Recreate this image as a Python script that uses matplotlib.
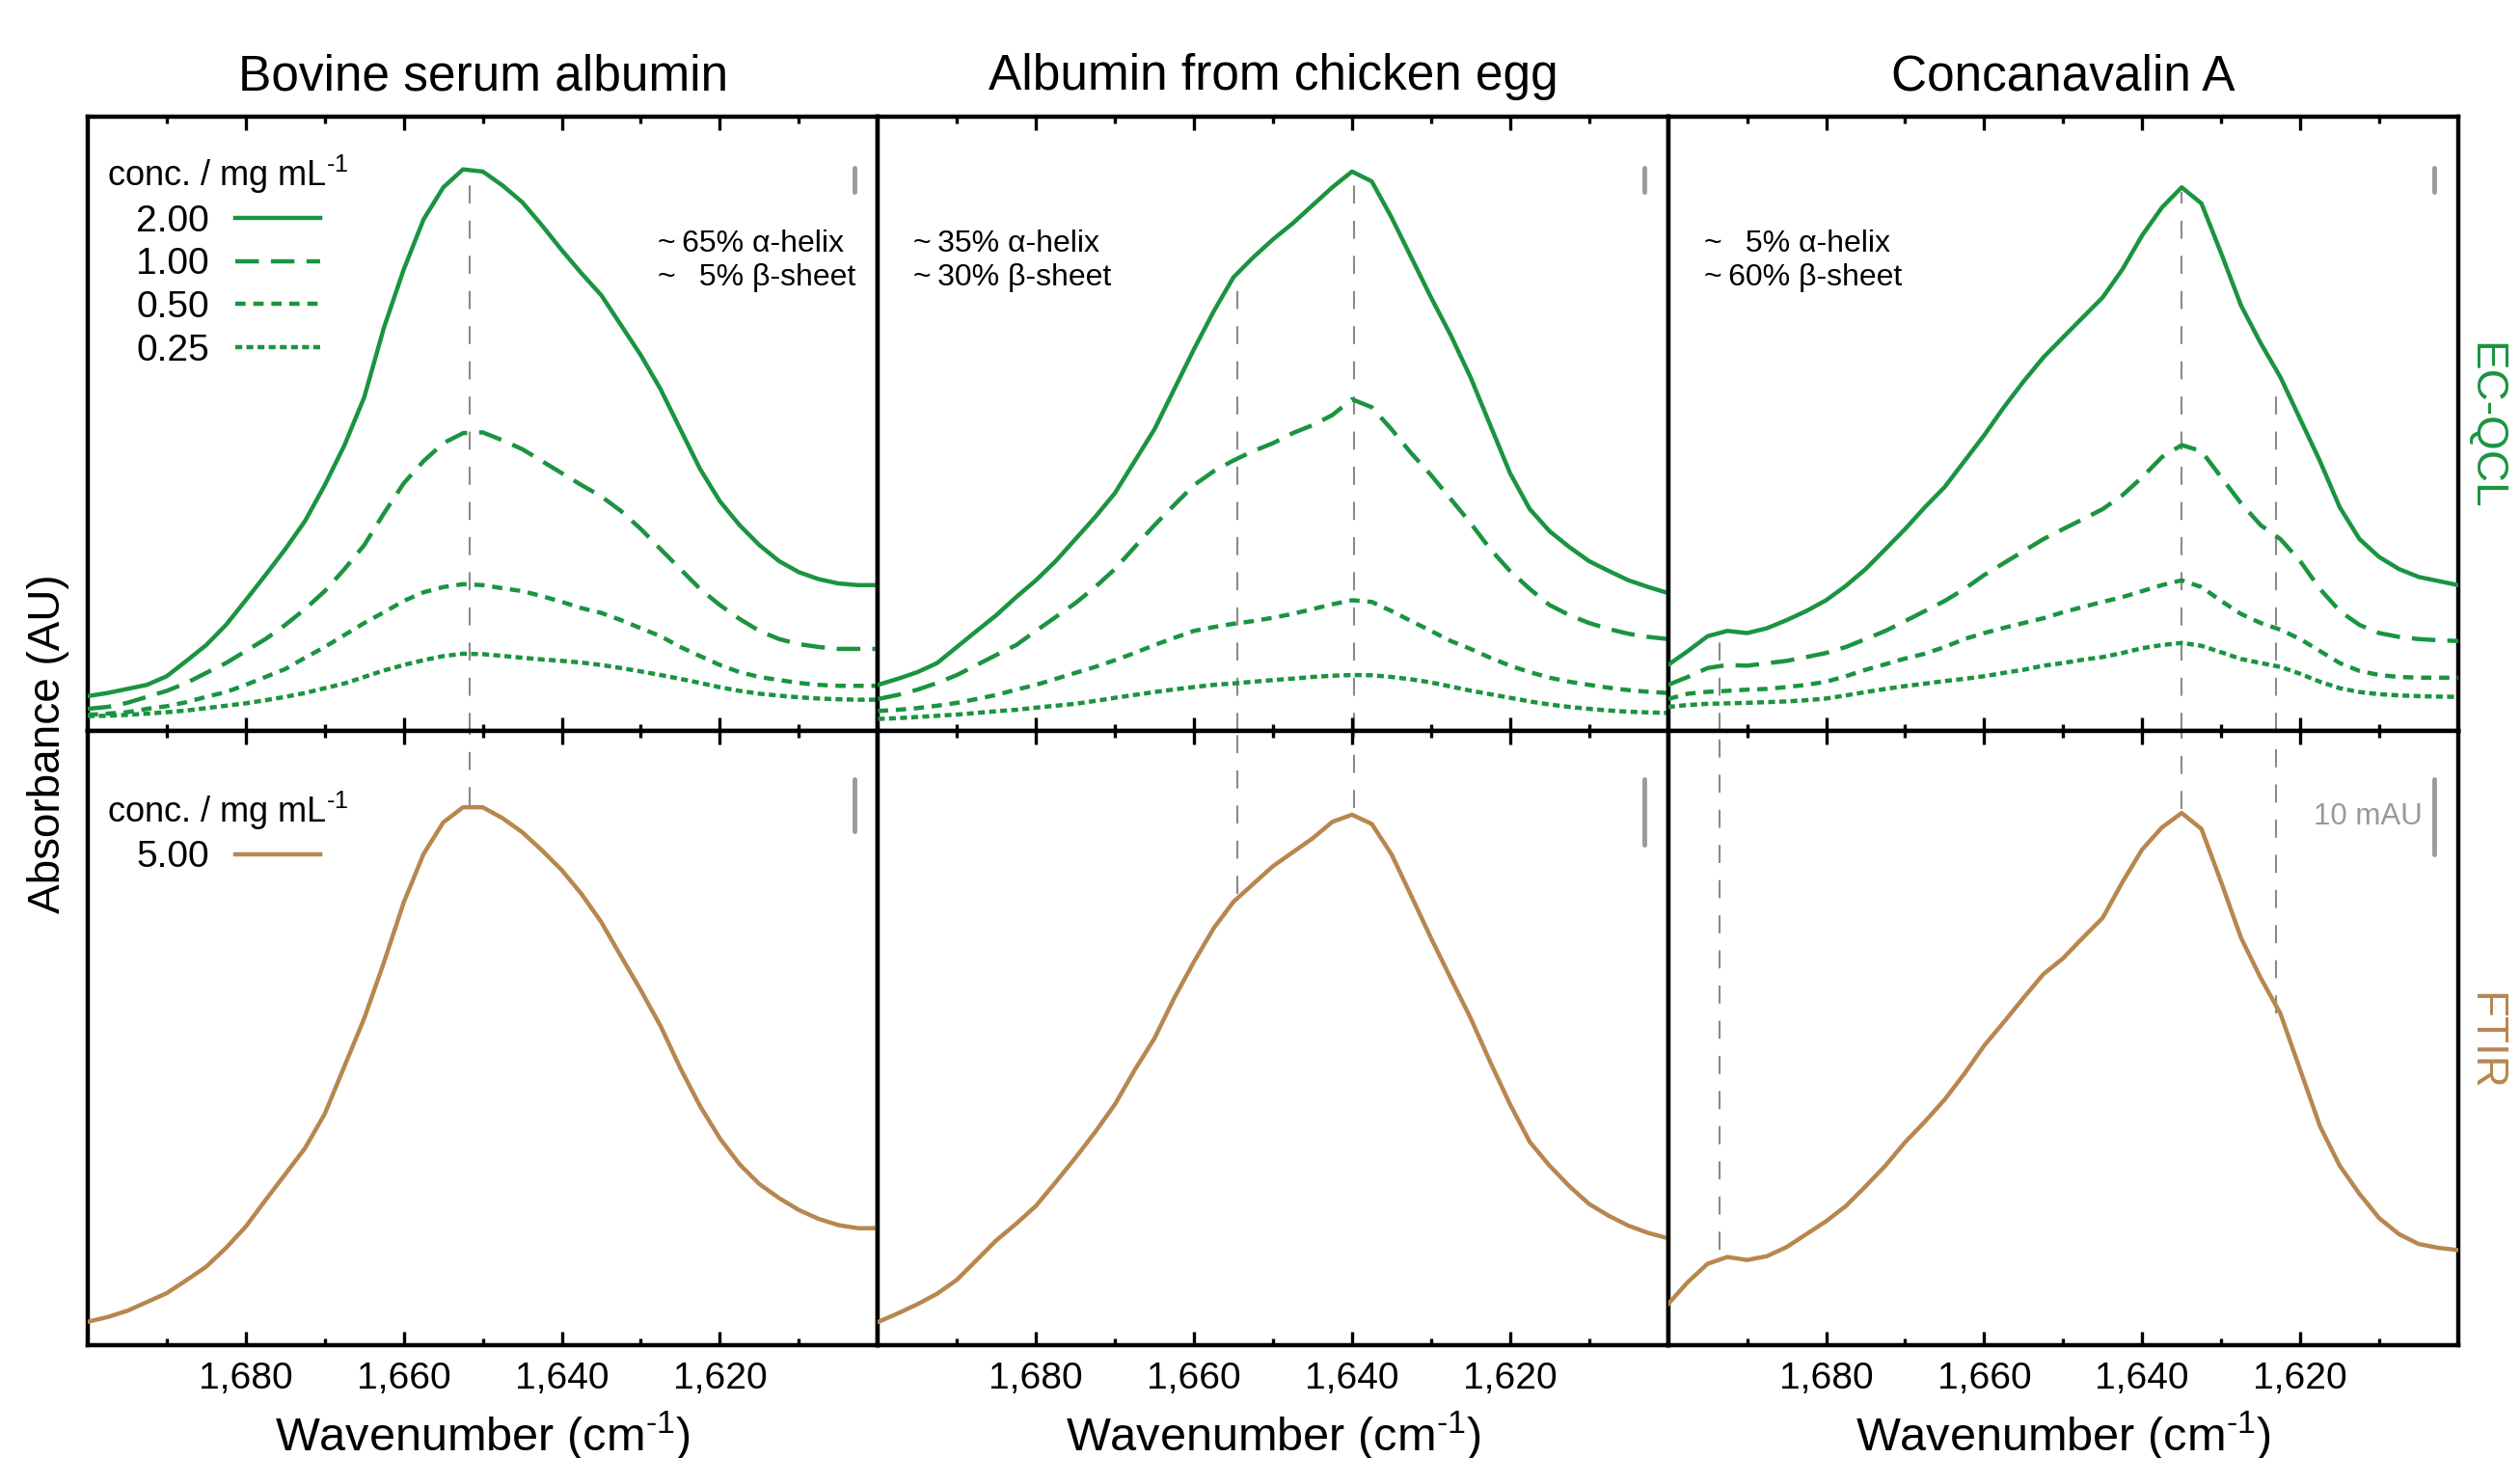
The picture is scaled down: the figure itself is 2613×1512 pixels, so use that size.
import matplotlib
matplotlib.use("Agg")
import matplotlib.pyplot as plt
from matplotlib.ticker import FixedLocator, FuncFormatter

plt.rcParams['font.family'] = ['Liberation Sans', 'DejaVu Sans']
plt.rcParams['mathtext.fontset'] = 'custom'
plt.rcParams['mathtext.rm'] = 'Liberation Sans'
plt.rcParams['mathtext.it'] = 'Liberation Sans:italic'
plt.rcParams['mathtext.bf'] = 'Liberation Sans:bold'

# wavenumber grid (cm-1), read every 2.5 cm-1
wavenumber = [1700.0, 1697.5, 1695.0, 1692.5, 1690.0, 1687.5, 1685.0, 1682.5, 1680.0, 1677.5,
              1675.0, 1672.5, 1670.0, 1667.5, 1665.0, 1662.5, 1660.0, 1657.5, 1655.0, 1652.5,
              1650.0, 1647.5, 1645.0, 1642.5, 1640.0, 1637.5, 1635.0, 1632.5, 1630.0, 1627.5,
              1625.0, 1622.5, 1620.0, 1617.5, 1615.0, 1612.5, 1610.0, 1607.5, 1605.0, 1602.5,
              1600.0]

# EC-QCL absorbance (mAU), conc. 2.00 / 1.00 / 0.50 / 0.25 mg/mL
bsa_qcl_200 = [14.5, 15.8, 17.5, 19.2, 22.8, 29.2, 35.8, 44.2, 54.5, 65.0, 75.8, 87.5, 102.5, 119.2,
               139.2, 168.3, 192.5, 213.3, 226.7, 234.2, 233.3, 227.5, 220.5, 210.8, 200.5, 190.8,
               181.7, 169.2, 156.7, 142.5, 125.8, 109.2, 95.8, 85.8, 77.5, 70.8, 66.2, 63.3, 61.5,
               60.8, 60.8]
bsa_qcl_100 = [9.2, 10.0, 11.7, 14.2, 16.7, 20.0, 24.2, 28.3, 33.3, 38.3, 44.2, 50.8, 58.3, 67.5,
               77.5, 90.8, 103.3, 112.5, 120.0, 124.2, 124.5, 121.2, 117.5, 112.5, 107.5, 102.5,
               97.8, 91.7, 84.2, 75.8, 67.5, 59.2, 52.5, 46.7, 41.7, 38.3, 36.2, 35.0, 34.2, 34.2, 34.2]
bsa_qcl_050 = [6.7, 7.2, 7.8, 9.2, 10.3, 12.0, 14.2, 16.2, 19.2, 22.5, 25.8, 30.5, 35.0, 40.0, 45.0,
               49.5, 54.2, 57.8, 60.0, 61.2, 60.8, 59.5, 58.3, 56.2, 53.8, 51.2, 49.2, 46.2, 42.8,
               39.5, 35.0, 31.2, 27.5, 24.5, 22.5, 21.2, 20.0, 19.2, 18.8, 18.8, 18.8]
bsa_qcl_025 = [6.2, 6.3, 6.7, 7.2, 7.8, 8.5, 9.5, 10.5, 11.5, 12.8, 14.2, 15.8, 17.8, 19.8, 22.5,
               25.2, 27.5, 29.5, 31.2, 32.2, 32.0, 31.3, 30.5, 29.8, 29.2, 28.5, 27.5, 26.2, 24.8,
               23.3, 21.7, 20.0, 18.2, 16.7, 15.5, 14.7, 14.0, 13.5, 13.2, 13.0, 13.0]

ova_qcl_200 = [19.2, 21.7, 24.5, 28.3, 35.0, 41.7, 48.3, 55.8, 62.8, 70.8, 80.0, 89.2, 99.2, 112.5,
               125.8, 142.5, 159.2, 175.0, 189.2, 197.5, 205.0, 211.7, 219.2, 226.7, 233.3, 229.2,
               214.2, 197.5, 180.8, 165.0, 147.5, 127.5, 107.5, 92.5, 83.3, 76.7, 70.8, 66.7, 62.8,
               60.0, 57.5]
ova_qcl_100 = [13.3, 15.0, 17.2, 20.0, 23.3, 27.5, 31.7, 35.8, 41.7, 47.5, 53.3, 60.0, 67.5, 76.7,
               85.8, 94.2, 102.5, 108.3, 112.8, 116.7, 120.0, 124.2, 127.5, 131.7, 138.3, 135.0,
               125.8, 115.8, 106.7, 96.7, 86.7, 75.8, 66.7, 59.2, 52.5, 48.3, 45.0, 42.5, 40.5, 39.2, 38.3]
ova_qcl_050 = [8.3, 8.8, 9.5, 10.5, 11.7, 13.3, 15.0, 17.2, 19.2, 21.7, 24.2, 26.7, 29.5, 32.5, 35.8,
               38.8, 41.7, 43.3, 44.7, 45.8, 47.2, 48.8, 50.8, 52.8, 54.5, 53.8, 50.0, 45.8, 41.7,
               37.5, 34.2, 30.5, 27.2, 24.5, 22.2, 20.5, 19.2, 18.0, 17.0, 16.3, 15.8]
ova_qcl_025 = [5.0, 5.3, 5.8, 6.3, 6.8, 7.5, 8.2, 8.8, 9.7, 10.5, 11.3, 12.5, 13.8, 15.0, 16.2, 17.3,
               18.3, 19.2, 19.8, 20.5, 21.2, 21.8, 22.5, 23.0, 23.3, 23.2, 22.5, 21.5, 20.2, 18.5,
               16.8, 15.3, 13.8, 12.3, 11.0, 10.0, 9.2, 8.5, 8.0, 7.7, 7.5]

cona_qcl_200 = [27.5, 33.3, 39.5, 41.7, 40.8, 42.8, 46.2, 50.0, 54.5, 60.5, 67.5, 75.8, 84.2, 93.3,
                101.7, 112.5, 123.3, 135.0, 145.8, 155.8, 164.2, 172.5, 180.8, 192.5, 206.7, 218.3,
                226.7, 220.0, 199.2, 177.5, 161.7, 147.5, 130.0, 112.5, 93.3, 80.0, 72.5, 67.5, 64.2,
                62.5, 60.8]
cona_qcl_100 = [19.2, 22.5, 26.2, 27.5, 27.2, 28.2, 29.2, 30.8, 32.5, 35.0, 38.3, 41.7, 45.8, 50.0,
                54.2, 59.2, 65.0, 70.0, 75.0, 80.0, 84.2, 88.3, 92.5, 98.3, 105.8, 114.2, 119.2, 116.7,
                105.8, 95.0, 85.8, 80.0, 70.8, 59.2, 50.0, 44.2, 40.8, 39.2, 38.3, 37.8, 37.5]
cona_qcl_050 = [13.3, 15.5, 16.3, 16.7, 17.2, 17.5, 18.3, 19.2, 20.5, 22.8, 25.5, 27.8, 30.2, 32.2,
                35.0, 38.3, 40.8, 43.0, 45.0, 47.0, 49.5, 51.7, 53.8, 55.8, 58.3, 60.8, 62.8, 60.0,
                54.2, 48.8, 45.0, 42.2, 38.3, 33.3, 28.3, 25.0, 23.3, 22.5, 22.2, 22.2, 22.2]
cona_qcl_025 = [10.0, 10.8, 11.3, 11.5, 11.7, 12.0, 12.3, 12.8, 13.5, 14.8, 16.2, 17.5, 18.7, 19.7,
                20.8, 21.7, 22.8, 24.2, 25.5, 27.2, 28.3, 29.7, 30.8, 32.5, 34.5, 35.8, 36.7, 35.5,
                32.8, 30.0, 28.3, 26.7, 23.8, 20.5, 17.8, 16.2, 15.3, 14.8, 14.5, 14.3, 14.2]

# FTIR absorbance (mAU), conc. 5.00 mg/mL
bsa_ftir = [4.5, 5.4, 6.6, 8.3, 10.0, 12.5, 15.1, 18.7, 22.8, 27.9, 32.9, 37.9, 44.5, 53.7, 62.9,
            73.7, 85.2, 94.5, 100.6, 103.5, 103.5, 101.4, 98.7, 95.2, 91.4, 86.8, 81.4, 74.8, 68.3,
            61.4, 53.3, 46.0, 39.8, 34.8, 31.0, 28.3, 26.0, 24.3, 23.1, 22.5, 22.5]
ova_ftir = [3.5, 4.8, 6.2, 7.8, 9.9, 12.9, 15.9, 18.4, 21.1, 24.7, 28.4, 32.3, 36.5, 41.7, 46.5,
            52.6, 58.1, 63.2, 67.2, 69.9, 72.6, 74.7, 76.8, 79.3, 80.4, 79.0, 74.4, 68.1, 61.7, 55.6,
            49.6, 42.9, 36.5, 30.8, 27.2, 24.1, 21.4, 19.6, 18.1, 17.0, 16.2]
cona_ftir = [5.4, 8.3, 10.7, 11.6, 11.2, 11.7, 12.9, 14.6, 16.3, 18.3, 20.9, 23.6, 26.7, 29.4, 32.3,
             35.7, 39.4, 42.5, 45.7, 48.8, 50.9, 53.6, 56.2, 60.9, 65.2, 68.1, 70.0, 67.9, 60.9,
             53.6, 48.3, 43.6, 36.2, 28.8, 23.6, 19.9, 16.7, 14.6, 13.3, 12.8, 12.5]

proteins = ['Bovine serum albumin', 'Albumin from chicken egg', 'Concanavalin A']
qcl_conc = ['2.00', '1.00', '0.50', '0.25']
ftir_conc = '5.00'
qcl_series = [[bsa_qcl_200, bsa_qcl_100, bsa_qcl_050, bsa_qcl_025],
              [ova_qcl_200, ova_qcl_100, ova_qcl_050, ova_qcl_025],
              [cona_qcl_200, cona_qcl_100, cona_qcl_050, cona_qcl_025]]
ftir_series = [bsa_ftir, ova_ftir, cona_ftir]
# thin space after the tilde, two normal spaces stand in for a missing digit
structure = ['~\u200965% \u03b1-helix\n~\u2009  5% \u03b2-sheet',
             '~\u200935% \u03b1-helix\n~\u200930% \u03b2-sheet',
             '~\u2009  5% \u03b1-helix\n~\u200960% \u03b2-sheet']

# marked band positions: (wavenumber, QCL value where line starts, FTIR value where it ends)
band_marks = [[(1651.7, 234.2, 103.9)],
              [(1654.5, 189.2, 68.4), (1639.7, 232.5, 81.4)],
              [(1693.5, 38.3, 12.5), (1635.0, 225.0, 70.5), (1623.1, 145.0, 43.6)]]

qcl_ylim = 256.2
ftir_ylim = [118.2, 93.1, 80.8]
bar_x = 1603.0
qcl_bar_base = 225.0
ftir_bar_base = [98.9, 75.8, 64.5]
bar_len = 10.0  # mAU

green = '#1a9440'
brown = '#b8864f'
gray = '#8a8a8a'
styles = ['-', (0, (5.5, 2.8)), (0, (2.4, 1.8)), (0, (1.6, 1.0))]
conc_title = 'conc. / mg mL$^{\\text{-1}}$'

fig = plt.figure(figsize=(26.13, 15.12), dpi=100)
axes = fig.subplots(2, 3)
fig.subplots_adjust(left=0.0348, right=0.9755, top=0.92, bottom=0.0774, wspace=0, hspace=0)

for col in range(3):
    top = axes[0, col]
    bot = axes[1, col]

    for ser, lab, ls in zip(qcl_series[col], qcl_conc, styles):
        top.plot(wavenumber, ser, color=green, lw=3.2, ls=ls, label=lab, zorder=3)
    bot.plot(wavenumber, ftir_series[col], color=brown, lw=3.2, label=ftir_conc, zorder=3)

    for wn, y_top, y_bot in band_marks[col]:
        top.plot([wn, wn], [0, y_top], color=gray, lw=1.5, ls=(0, (9, 8.5)), zorder=1)
        bot.plot([wn, wn], [y_bot, ftir_ylim[col]], color=gray, lw=1.5, ls=(0, (9, 8.5)), zorder=1)

    top.plot([bar_x, bar_x], [qcl_bar_base, qcl_bar_base + bar_len], color='#9a9a9a', lw=3.5,
             solid_capstyle='round')
    bot.plot([bar_x, bar_x], [ftir_bar_base[col], ftir_bar_base[col] + bar_len], color='#9a9a9a',
             lw=3.5, solid_capstyle='round')

    top.set_ylim(0, qcl_ylim)
    bot.set_ylim(0, ftir_ylim[col])
    top.set_title(proteins[col], fontsize=37, pad=20)

    if col == 0:
        top.text(0.972, 0.765, structure[col], transform=top.transAxes, ha='right', va='center',
                 fontsize=23, linespacing=1.2, multialignment='left')
    else:
        top.text(0.045, 0.765, structure[col], transform=top.transAxes, ha='left', va='center',
                 fontsize=23, linespacing=1.2, multialignment='left')

    for ax in (top, bot):
        ax.set_xlim(1700, 1600)
        ax.set_yticks([])
        ax.xaxis.set_major_locator(FixedLocator([1680, 1660, 1640, 1620]))
        ax.xaxis.set_minor_locator(FixedLocator([1690, 1670, 1650, 1630, 1610]))
        ax.xaxis.set_major_formatter(FuncFormatter(lambda v, p: f'{v:,.0f}'))
        ax.tick_params(axis='x', which='both', direction='in', top=True, bottom=True,
                       width=2.4, labelsize=28, pad=12)
        ax.tick_params(axis='x', which='major', length=10)
        ax.tick_params(axis='x', which='minor', length=5)
        for sp in ax.spines.values():
            sp.set_linewidth(3.2)
    top.tick_params(axis='x', which='both', labelbottom=False)
    bot.set_xlabel('Wavenumber (cm$^{\\text{-1}}$)', fontsize=35, labelpad=10)

axes[1, 2].text(1604.5, 69.5, '10 mAU', color='#999999', fontsize=22.5, ha='right', va='center')

leg = axes[0, 0].legend(title=conc_title, loc='upper left', bbox_to_anchor=(0.025, 0.94),
                        frameon=False, fontsize=28, title_fontsize=26, markerfirst=False,
                        handlelength=2.25, handletextpad=0.7, labelspacing=0.22, borderpad=0,
                        borderaxespad=0)
leg2 = axes[1, 0].legend(title=conc_title, loc='upper left', bbox_to_anchor=(0.025, 0.905),
                         frameon=False, fontsize=28, title_fontsize=26, markerfirst=False,
                         handlelength=2.25, handletextpad=0.7, labelspacing=0.22, borderpad=0,
                         borderaxespad=0)

fig.text(0.019, 0.49, 'Absorbance (AU)', rotation=90, ha='center', va='center', fontsize=33)
fig.text(0.986, 0.708, 'EC-QCL', rotation=270, ha='center', va='center', fontsize=33, color=green)
fig.text(0.986, 0.286, 'FTIR', rotation=270, ha='center', va='center', fontsize=33, color=brown)

fig.savefig('out.png', dpi=100)
